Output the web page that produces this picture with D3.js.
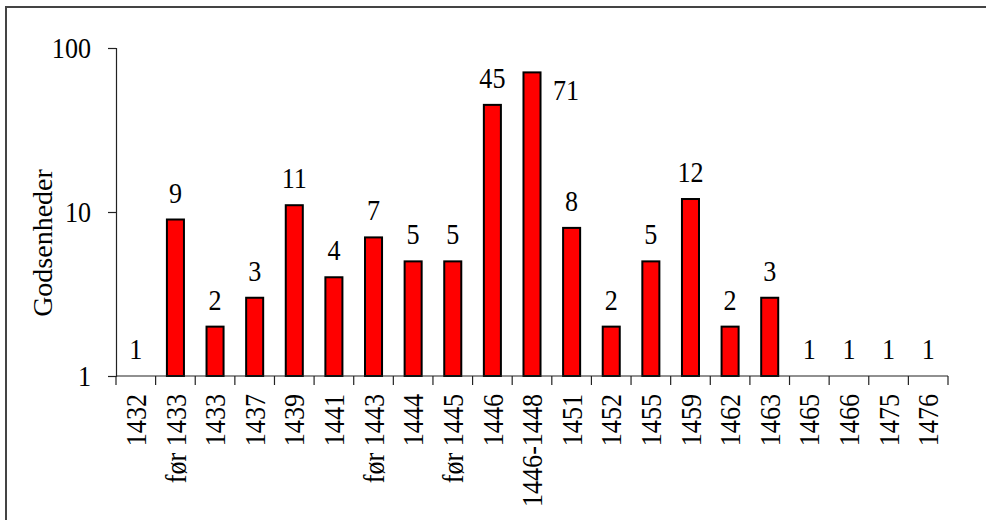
<!DOCTYPE html>
<html>
<head>
<meta charset="utf-8">
<script src="https://cdn.jsdelivr.net/npm/d3@7"></script>
<style>
  html, body { margin: 0; padding: 0; background: #fff; }
  svg { display: block; }
  text { font-family: "Liberation Serif", "Times New Roman", serif; fill: #000; }
</style>
</head>
<body>
<svg id="chart" width="986" height="520"></svg>
<script>
const categories = ["1432", "før 1433", "1433", "1437", "1439", "1441", "før 1443", "1444", "før 1445", "1446", "1446-1448", "1451", "1452", "1455", "1459", "1462", "1463", "1465", "1466", "1475", "1476"];
const values = [1, 9, 2, 3, 11, 4, 7, 5, 5, 45, 71, 8, 2, 5, 12, 2, 3, 1, 1, 1, 1];
const yTicks = [1, 10, 100];
const yTitle = "Godsenheder";

const svg = d3.select("#chart");
const margin = { left: 116, right: 38, top: 48, bottom: 144 };
const W = 986, H = 520;
const FS = 29;      // font size
const SX = 0.9;     // horizontal glyph compression (along text direction)

// outer frame
svg.append("rect")
  .attr("x", 6).attr("y", 7)
  .attr("width", W + 20).attr("height", H + 20)
  .attr("fill", "none").attr("stroke", "#444").attr("stroke-width", 2);

const x = d3.scaleBand()
  .domain(categories)
  .range([margin.left, W - margin.right])
  .paddingInner(0.57).paddingOuter(0.285);

const xAxisScale = d3.scaleBand()
  .domain(categories)
  .range([margin.left, W - margin.right]);

const y = d3.scaleLog()
  .domain([1, 100])
  .range([H - margin.bottom, margin.top]);

// bars
svg.append("g").selectAll("rect")
  .data(values)
  .join("rect")
  .attr("x", (d, i) => x(categories[i]))
  .attr("y", d => y(d))
  .attr("width", x.bandwidth())
  .attr("height", d => y(1) - y(d))
  .attr("fill", "#ff0000")
  .attr("stroke", "#000")
  .attr("stroke-width", 2);

// y axis
const yAxis = svg.append("g")
  .attr("transform", `translate(${margin.left},0)`)
  .call(d3.axisLeft(y).tickValues(yTicks).tickFormat(d3.format("d")).tickSize(8).tickPadding(19.8));
yAxis.select(".domain").attr("stroke", "#222").attr("stroke-width", 1.2);
yAxis.selectAll(".tick line").attr("stroke", "#222").attr("stroke-width", 1.2);
yAxis.selectAll(".tick text")
  .attr("font-size", FS)
  .attr("font-family", "Liberation Serif")
  .attr("fill", "#000")
  .attr("transform", `scale(${SX},1)`);

// x axis
const xAxisG = svg.append("g")
  .attr("transform", `translate(0,${y(1)})`);
xAxisG.append("line")
  .attr("x1", margin.left).attr("x2", W - margin.right)
  .attr("y1", 0).attr("y2", 0)
  .attr("stroke", "#222").attr("stroke-width", 1.2);
const bounds = categories.map(c => xAxisScale(c)).concat([xAxisScale(categories[categories.length - 1]) + xAxisScale.bandwidth()]);
xAxisG.selectAll("line.tk")
  .data(bounds)
  .join("line")
  .attr("class", "tk")
  .attr("x1", d => d).attr("x2", d => d)
  .attr("y1", 0).attr("y2", 9)
  .attr("stroke", "#222").attr("stroke-width", 1.2);
xAxisG.selectAll("text.lbl")
  .data(categories)
  .join("text")
  .attr("class", "lbl")
  .attr("transform", d => `translate(${xAxisScale(d) + xAxisScale.bandwidth() / 2},18) rotate(-90) scale(${SX},1)`)
  .attr("text-anchor", "end")
  .attr("dy", "0.35em")
  .attr("font-size", FS)
  .text(d => d);

// value labels
svg.append("g").selectAll("text")
  .data(values)
  .join("text")
  .attr("transform", (d, i) => {
    const special = categories[i] === "1446-1448";
    const cx = x(categories[i]) + x.bandwidth() / 2 + (special ? 34 : 0);
    const cy = y(d) - 17 + (special ? 45 : 0);
    return `translate(${cx},${cy}) scale(${SX},1)`;
  })
  .attr("text-anchor", "middle")
  .attr("font-size", FS)
  .text(d => d);

// y title
svg.append("text")
  .attr("transform", `translate(52,${(y(1) + y(100)) / 2 + 31}) rotate(-90)`)
  .attr("text-anchor", "middle")
  .attr("font-size", 28)
  .text(yTitle);
</script>
</body>
</html>
